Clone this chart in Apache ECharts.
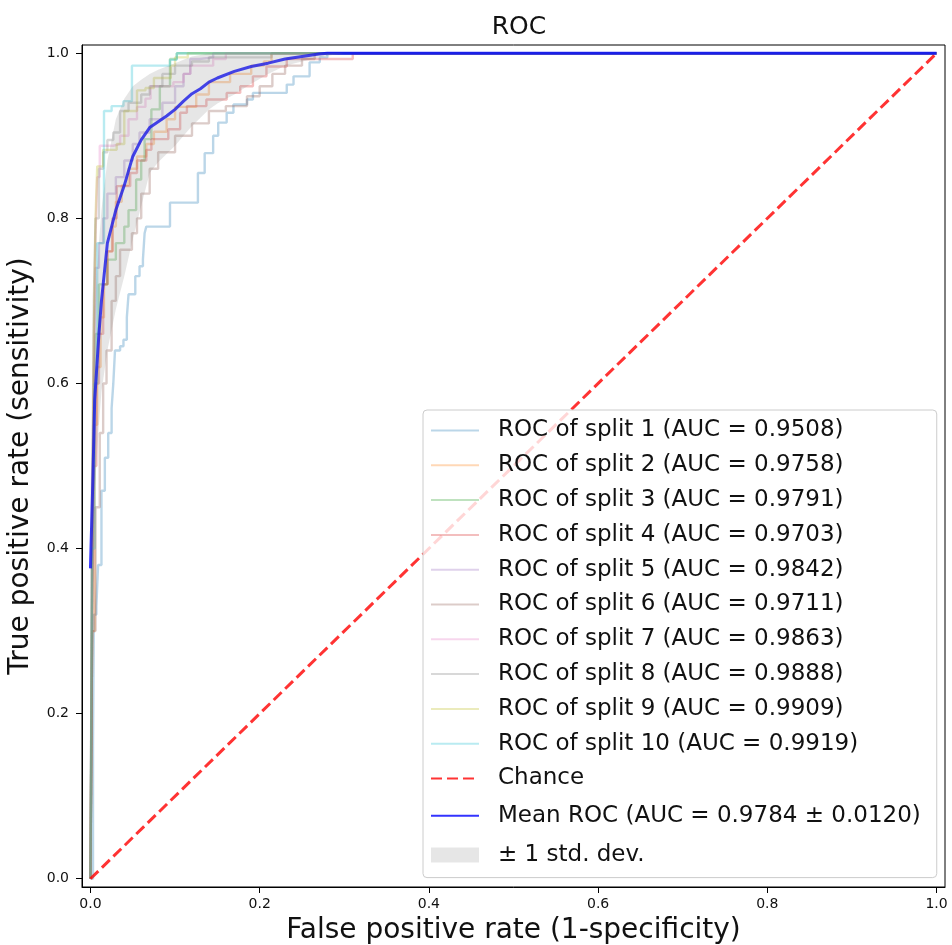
<!DOCTYPE html>
<html>
<head>
<meta charset="utf-8">
<script src="https://cdn.jsdelivr.net/npm/echarts@6/dist/echarts.min.js"></script>
<style>
  html, body { margin: 0; padding: 0; background: #fff; }
  #chart { width: 952px; height: 945px; }
</style>
</head>
<body>
<div id="chart"></div>
<script>
// ROC curves of a 10-fold cross-validation, as [fpr, tpr] corner points
const split1 = [[0,0],[0.003,0.16],[0.004,0.32],[0.007,0.33],[0.009,0.38],[0.013,0.47],[0.017,0.51],[0.021,0.54],[0.025,0.57],[0.027,0.60],[0.029,0.64],[0.035,0.645],[0.039,0.653],[0.043,0.68],[0.045,0.708],[0.053,0.73],[0.058,0.742],[0.062,0.75],[0.064,0.782],[0.066,0.79],[0.094,0.819],[0.127,0.855],[0.135,0.879],[0.145,0.90],[0.151,0.916],[0.161,0.928],[0.169,0.938],[0.185,0.944],[0.192,0.952],[0.232,0.962],[0.24,0.972],[0.259,0.989],[0.271,0.995],[0.28,1.0],[1.0,1.0]];
const split2 = [[0,0],[0.002,0.30],[0.005,0.55],[0.008,0.62],[0.012,0.68],[0.016,0.72],[0.02,0.76],[0.026,0.79],[0.03,0.82],[0.037,0.84],[0.045,0.86],[0.055,0.875],[0.066,0.89],[0.075,0.905],[0.09,0.92],[0.1,0.935],[0.125,0.95],[0.14,0.965],[0.165,0.975],[0.19,0.985],[0.205,0.99],[0.214,1.0],[1.0,1.0]];
const split3 = [[0,0],[0.002,0.33],[0.004,0.55],[0.006,0.66],[0.01,0.72],[0.02,0.75],[0.03,0.77],[0.04,0.79],[0.045,0.81],[0.054,0.847],[0.06,0.87],[0.064,0.896],[0.072,0.932],[0.082,0.96],[0.094,0.993],[0.102,1.0],[1.0,1.0]];
const split4 = [[0,0],[0.002,0.30],[0.004,0.50],[0.007,0.60],[0.01,0.66],[0.015,0.72],[0.02,0.76],[0.026,0.80],[0.031,0.839],[0.047,0.855],[0.055,0.87],[0.066,0.883],[0.072,0.896],[0.092,0.908],[0.106,0.928],[0.114,0.936],[0.137,0.944],[0.161,0.952],[0.177,0.96],[0.192,0.972],[0.208,0.984],[0.232,0.993],[0.31,1.0],[1.0,1.0]];
const split5 = [[0,0],[0.002,0.35],[0.004,0.60],[0.006,0.74],[0.01,0.77],[0.015,0.80],[0.02,0.83],[0.03,0.85],[0.04,0.87],[0.05,0.89],[0.058,0.904],[0.07,0.92],[0.085,0.94],[0.1,0.96],[0.11,0.975],[0.118,0.993],[0.129,0.995],[0.145,1.0],[1.0,1.0]];
const split6 = [[0,0],[0.002,0.30],[0.006,0.45],[0.011,0.54],[0.015,0.60],[0.019,0.64],[0.025,0.70],[0.03,0.73],[0.035,0.762],[0.049,0.782],[0.055,0.80],[0.06,0.83],[0.07,0.86],[0.08,0.88],[0.1,0.90],[0.12,0.915],[0.14,0.93],[0.16,0.936],[0.185,0.948],[0.2,0.96],[0.215,0.975],[0.23,0.985],[0.25,0.993],[0.265,1.0],[1.0,1.0]];
const split7 = [[0,0],[0.002,0.40],[0.004,0.65],[0.006,0.78],[0.008,0.85],[0.011,0.888],[0.027,0.89],[0.035,0.90],[0.045,0.92],[0.055,0.935],[0.065,0.945],[0.071,0.96],[0.098,0.965],[0.11,0.975],[0.118,0.985],[0.145,0.993],[0.16,1.0],[1.0,1.0]];
const split8 = [[0,0],[0.002,0.45],[0.004,0.70],[0.006,0.80],[0.01,0.86],[0.015,0.88],[0.02,0.895],[0.027,0.904],[0.035,0.93],[0.045,0.94],[0.06,0.95],[0.07,0.96],[0.085,0.975],[0.1,0.985],[0.12,0.99],[0.14,0.995],[0.214,1.0],[1.0,1.0]];
const split9 = [[0,0],[0.002,0.40],[0.004,0.66],[0.006,0.80],[0.008,0.863],[0.015,0.883],[0.031,0.89],[0.04,0.93],[0.055,0.955],[0.065,0.958],[0.075,0.97],[0.095,0.985],[0.1,0.995],[0.115,1.0],[1.0,1.0]];
const split10 = [[0,0],[0.002,0.40],[0.005,0.60],[0.008,0.77],[0.016,0.93],[0.025,0.936],[0.039,0.942],[0.049,0.985],[0.094,0.992],[0.102,1.0],[1.0,1.0]];

const splits = [split1, split2, split3, split4, split5, split6, split7, split8, split9, split10];
const splitAuc = [0.9508, 0.9758, 0.9791, 0.9703, 0.9842, 0.9711, 0.9863, 0.9888, 0.9909, 0.9919];
const splitColors = ['31,119,180', '255,127,14', '44,160,44', '214,39,40', '148,103,189',
                     '140,86,75', '227,119,194', '127,127,127', '188,189,34', '23,190,207'];

// Mean ROC and its ±1 std band on a shared fpr grid
const meanFpr  = [0, 0.003, 0.005, 0.01, 0.013, 0.02, 0.03, 0.04, 0.05, 0.06, 0.07, 0.08, 0.09, 0.10, 0.11, 0.12, 0.13, 0.14, 0.15, 0.17, 0.19, 0.21, 0.23, 0.25, 0.27, 0.28, 0.30, 1.0];
const meanTpr  = [0.376, 0.49, 0.58, 0.66, 0.70, 0.77, 0.81, 0.84, 0.875, 0.895, 0.910, 0.917, 0.924, 0.932, 0.942, 0.951, 0.957, 0.965, 0.970, 0.978, 0.984, 0.988, 0.993, 0.996, 0.999, 1.0, 1.0, 1.0];
const bandLow  = [0.28, 0.40, 0.47, 0.55, 0.59, 0.64, 0.69, 0.73, 0.775, 0.815, 0.855, 0.868, 0.878, 0.888, 0.90, 0.912, 0.922, 0.932, 0.939, 0.95, 0.963, 0.975, 0.985, 0.99, 0.995, 0.997, 1.0, 1.0];
const bandHigh = [0.47, 0.58, 0.69, 0.77, 0.81, 0.87, 0.92, 0.945, 0.96, 0.968, 0.975, 0.98, 0.984, 0.988, 0.992, 0.996, 0.998, 1.0, 1.0, 1.0, 1.0, 1.0, 1.0, 1.0, 1.0, 1.0, 1.0, 1.0];
const meanAuc = 0.9784;
const stdAuc = 0.0120;

const chanceLine = [[0, 0], [1, 1]];
const tickValues = [0, 0.2, 0.4, 0.6, 0.8, 1.0];

const FONT = 'DejaVu Sans';
const TEXT = '#111';

const series = [];
splits.forEach((pts, i) => {
  const col = 'rgba(' + splitColors[i] + ',0.3)';
  series.push({
    name: 'ROC of split ' + (i + 1) + ' (AUC = ' + splitAuc[i].toFixed(4) + ')',
    type: 'line',
    data: pts,
    step: 'end',
    symbol: 'none',
    showSymbol: false,
    lineStyle: { color: col, width: 2.4 },
    itemStyle: { color: col },
    z: 2,
    silent: true
  });
});

series.push({
  name: 'Chance',
  type: 'line',
  data: chanceLine,
  symbol: 'none',
  showSymbol: false,
  lineStyle: { color: 'rgba(255,0,0,0.8)', width: 3, type: [11, 5] },
  itemStyle: { color: 'rgba(255,0,0,0.8)' },
  z: 3,
  silent: true
});

series.push({
  name: 'Mean ROC (AUC = ' + meanAuc.toFixed(4) + ' ± ' + stdAuc.toFixed(4) + ')',
  type: 'line',
  data: meanFpr.map((x, i) => [x, meanTpr[i]]),
  symbol: 'none',
  showSymbol: false,
  lineStyle: { color: 'rgba(0,0,255,0.8)', width: 3 },
  itemStyle: { color: 'rgba(0,0,255,0.8)' },
  z: 4,
  silent: true
});

series.push({
  name: '± 1 std. dev.',
  type: 'custom',
  data: [[0, 0]],
  itemStyle: { color: 'rgba(128,128,128,0.2)' },
  z: 5,
  silent: true,
  renderItem: function (params, api) {
    const pts = [];
    for (let i = 0; i < meanFpr.length; i++) pts.push(api.coord([meanFpr[i], bandHigh[i]]));
    for (let i = meanFpr.length - 1; i >= 0; i--) pts.push(api.coord([meanFpr[i], bandLow[i]]));
    return {
      type: 'polygon',
      shape: { points: pts },
      style: { fill: 'rgba(128,128,128,0.2)', stroke: 'none' }
    };
  }
});

// Legend entries: plain line handles (no marker), a filled patch for the band
const legendData = series.map((s) => {
  if (s.type === 'custom') {
    return { name: s.name, icon: 'rect', textStyle: { lineHeight: 29 } };
  }
  const item = {
    name: s.name,
    itemStyle: { color: 'rgba(0,0,0,0)', borderColor: 'rgba(0,0,0,0)', borderWidth: 0 }
  };
  if (s.name.indexOf('Mean') === 0) item.textStyle = { lineHeight: 30 };
  return item;
});

const axisCommon = {
  type: 'value',
  min: -0.01,
  max: 1.01,
  axisLine: { show: true, onZero: false, lineStyle: { color: '#000', width: 1 } },
  axisTick: { show: true, customValues: tickValues, length: 6, lineStyle: { color: '#000', width: 1 } },
  splitLine: { show: false },
  nameLocation: 'middle'
};

const chart = echarts.init(document.getElementById('chart'), null, { renderer: 'canvas' });
chart.setOption({
  animation: false,
  backgroundColor: '#fff',
  title: {
    text: 'ROC',
    left: 514,
    top: 10,
    textAlign: 'center',
    textStyle: { fontFamily: FONT, fontSize: 25, fontWeight: 'normal', color: TEXT }
  },
  grid: {
    left: 82, right: 7, top: 45, bottom: 58,
    outerBoundsMode: 'none',
    containLabel: false,
    show: true, borderColor: '#000', borderWidth: 1, backgroundColor: 'transparent'
  },
  xAxis: Object.assign({}, axisCommon, {
    name: 'False positive rate (1-specificity)',
    nameGap: 28,
    nameTextStyle: { fontFamily: FONT, fontSize: 28, color: TEXT, lineHeight: 30 },
    axisLabel: { customValues: tickValues, formatter: v => v.toFixed(1), margin: 10,
                 fontFamily: FONT, fontSize: 14, color: TEXT }
  }),
  yAxis: Object.assign({}, axisCommon, {
    name: 'True positive rate (sensitivity)',
    nameGap: 45,
    nameTextStyle: { fontFamily: FONT, fontSize: 28, color: TEXT, lineHeight: 30 },
    axisLabel: { customValues: tickValues, formatter: v => v.toFixed(1), margin: 13,
                 fontFamily: FONT, fontSize: 14, color: TEXT }
  }),
  legend: {
    data: legendData,
    orient: 'vertical',
    left: 423,
    top: 410,
    padding: [8, 16, 8, 7],
    itemWidth: 48,
    itemHeight: 15,
    itemGap: 9.8,
    selectedMode: false,
    backgroundColor: 'rgba(255,255,255,0.8)',
    borderColor: '#cccccc',
    borderWidth: 1,
    borderRadius: 4,
    textStyle: { fontFamily: FONT, fontSize: 23, color: TEXT, lineHeight: 25, padding: [0, 0, 0, 14] }
  },
  series: series
});
</script>
</body>
</html>
